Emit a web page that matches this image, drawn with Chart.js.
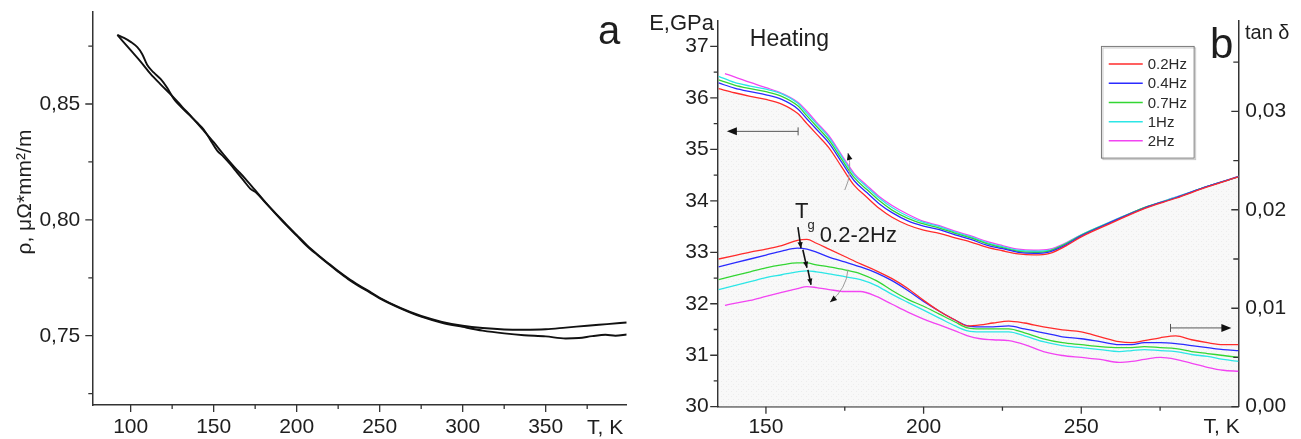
<!DOCTYPE html>
<html><head><meta charset="utf-8">
<script src="https://cdn.jsdelivr.net/npm/chart.js@4.4.0/dist/chart.umd.min.js"></script>
<style>
html,body{margin:0;padding:0;background:#fff;width:1301px;height:439px;overflow:hidden}
#ca{position:absolute;left:0;top:0}
#cb{position:absolute;left:630px;top:0}
</style></head><body>
<canvas id="ca" width="630" height="439"></canvas>
<canvas id="cb" width="671" height="439"></canvas>
<script>
// ---------- Panel a data ----------
const aTemps1 = [92,100,106,112,118,125,131,137.5,144,150,156,162.5,169,175,181,187.5,194,200,206,212.5,219,225,231,237.5,244,250,262.5,275,287.5,300,312,325,337,350,362,370,378,386,392,398.8];
const aRho1   = [0.8798,0.8732,0.8683,0.8630,0.8585,0.8535,0.8488,0.8438,0.8385,0.8335,0.8282,0.8228,0.8178,0.8128,0.8078,0.8025,0.7975,0.7932,0.7888,0.7848,0.7810,0.7776,0.7744,0.7714,0.7687,0.7661,0.7618,0.7582,0.7556,0.7538,0.7522,0.7510,0.7502,0.7497,0.7488,0.7490,0.7498,0.7504,0.7500,0.7505];
const aTemps2 = [92,96,100,104,107,110,114,118,122,126,130,135,140,144,148,152,156,160,164,168,172,176,181,187.5,194,200,206,212.5,219,225,231,237.5,244,250,262.5,275,287.5,300,312,325,337,350,362,375,387,398.8];
const aRho2   = [0.8798,0.8785,0.8768,0.8745,0.8715,0.8668,0.8635,0.8608,0.8570,0.8522,0.8490,0.8455,0.8420,0.8390,0.8345,0.8300,0.8272,0.8240,0.8205,0.8170,0.8135,0.8115,0.8075,0.8027,0.7978,0.7935,0.7892,0.7851,0.7813,0.7779,0.7748,0.7718,0.7690,0.7664,0.7620,0.7585,0.7560,0.7543,0.7533,0.7527,0.7526,0.7528,0.7535,0.7543,0.7550,0.7557];
const aXTickMajor = [100,150,200,250,300,350];
const aXTickMinor = [125,175,225,275,325,375];
const aYTickMajor = [0.75,0.80,0.85];
const aYTickMinor = [0.725,0.775,0.825,0.875];

// ---------- Panel b data ----------
const bLabels = ['0.2Hz','0.4Hz','0.7Hz','1Hz','2Hz'];
const bColors = ['#ff2b2b','#2b2bff','#33d633','#2ce6e6','#f244f2'];
const bETemps  = [135,140,145,150,155,160,163,166,170,174,178,182,186,190,195,200,205,210,215,220,225,230,235,240,245,250,260,270,280,290,300];
const bETempsM = [137,140,145,150,155,160,163,166,170,174,178,182,186,190,195,200,205,210,215,220,225,230,235,240,245,250,260,270,280,290,300];
const bE02 = [36.18,36.10,36.03,35.97,35.88,35.70,35.50,35.30,35.03,34.66,34.30,34.07,33.85,33.68,33.53,33.43,33.37,33.28,33.20,33.10,33.03,32.97,32.95,32.98,33.12,33.30,33.58,33.85,34.05,34.27,34.47];
const bE04 = [36.29,36.19,36.12,36.06,35.97,35.79,35.59,35.39,35.12,34.75,34.39,34.16,33.94,33.77,33.61,33.51,33.44,33.34,33.25,33.14,33.07,33.00,32.98,33.01,33.14,33.32,33.60,33.86,34.06,34.28,34.47];
const bE07 = [36.35,36.25,36.18,36.12,36.03,35.85,35.65,35.45,35.18,34.81,34.45,34.22,34.00,33.82,33.66,33.55,33.47,33.37,33.28,33.17,33.09,33.02,33.00,33.03,33.16,33.33,33.60,33.87,34.06,34.28,34.47];
const bE1  = [36.42,36.30,36.23,36.17,36.08,35.90,35.70,35.50,35.23,34.86,34.50,34.27,34.05,33.87,33.70,33.58,33.50,33.39,33.30,33.19,33.11,33.04,33.02,33.04,33.17,33.34,33.61,33.87,34.07,34.28,34.47];
const bE2  = [36.47,36.41,36.30,36.20,36.09,35.92,35.74,35.53,35.26,34.89,34.53,34.30,34.08,33.91,33.74,33.60,33.52,33.41,33.32,33.21,33.13,33.06,33.04,33.06,33.18,33.34,33.61,33.87,34.07,34.28,34.48];

const bTanTemps  = [135,140,145,150,155,160,163,166,170,175,180,185,190,195,200,205,210,214,218,222,227,232,238,244,250,256,262,266,270,275,280,285,290,295,300];
const bTanTempsM = [137,140,145,150,155,160,163,166,170,175,180,185,190,195,200,205,210,214,218,222,227,232,238,244,250,256,262,266,270,275,280,285,290,295,300];
const bTan02 = [0.0150,0.01535,0.0157,0.0160,0.01635,0.0169,0.0170,0.0166,0.0160,0.01525,0.0145,0.0138,0.0130,0.0120,0.0108,0.0097,0.0088,0.0082,0.0083,0.0085,0.0087,0.0085,0.0081,0.0078,0.0076,0.0071,0.0066,0.0065,0.0067,0.0070,0.0072,0.0068,0.0065,0.0063,0.0063];
const bTan04 = [0.0142,0.0146,0.0150,0.0154,0.0158,0.0161,0.0160,0.0157,0.0152,0.0147,0.0142,0.0136,0.0128,0.0118,0.0107,0.0097,0.0088,0.0082,0.0081,0.0081,0.0082,0.0079,0.0075,0.0071,0.0069,0.0066,0.0063,0.0063,0.0065,0.0065,0.0064,0.0062,0.0060,0.0058,0.0057];
const bTan07 = [0.0129,0.0133,0.0137,0.0141,0.0144,0.0146,0.0146,0.0144,0.0142,0.0139,0.0135,0.0128,0.0118,0.0109,0.0102,0.0094,0.0086,0.0080,0.0079,0.0079,0.0079,0.0075,0.0069,0.0065,0.0063,0.0061,0.0060,0.0060,0.0061,0.0060,0.0059,0.0056,0.0054,0.0052,0.0050];
const bTan1  = [0.0119,0.0123,0.0127,0.0131,0.0134,0.0137,0.0138,0.0137,0.0135,0.0132,0.0129,0.0123,0.0114,0.0106,0.0098,0.0090,0.0082,0.0077,0.0076,0.0076,0.0076,0.0072,0.0066,0.0062,0.0060,0.0058,0.0056,0.0057,0.0058,0.0057,0.0056,0.0053,0.0051,0.0048,0.0046];
const bTan2  = [0.0103,0.0105,0.0108,0.0112,0.0116,0.0120,0.0122,0.0121,0.0119,0.0117,0.0117,0.0112,0.0104,0.0096,0.0089,0.0083,0.0077,0.0072,0.0069,0.0068,0.0067,0.0063,0.0056,0.0052,0.0050,0.0048,0.0045,0.0046,0.0048,0.0050,0.0048,0.0044,0.0040,0.0037,0.0036];

const bXTickMajor = [150,200,250];
const bXTickMinor = [175,225,275];
const bETickMajor = [30,31,32,33,34,35,36,37];
const bETickMinor = [30.5,31.5,32.5,33.5,34.5,35.5,36.5];
const bTanTickMajor = [0,0.01,0.02,0.03];
const bTanTickMinor = [0.005,0.015,0.025,0.035];

// ---------- helpers ----------
const FONT = "'Liberation Sans', Arial, Helvetica, sans-serif";
Chart.defaults.font.family = FONT;
Chart.defaults.color = '#1e1e1e';
const pts = (xs, ys) => xs.map((v, i) => ({x: v, y: ys[i]}));
const comma = v => v.toFixed(2).replace('.', ',');
function fit(size, horiz) {
  return s => { if (horiz) s.height = size; else s.width = size; s.paddingTop = s.paddingBottom = s.paddingLeft = s.paddingRight = 0; };
}
const setTicks = arr => s => { s.ticks = arr.map(v => ({value: v})); };
function tickLines(ctx, scale, ca, values, len, side) {
  ctx.beginPath();
  values.forEach(v => {
    const p = scale.getPixelForValue(v);
    if (side === 'bottom') { ctx.moveTo(p, ca.bottom); ctx.lineTo(p, ca.bottom + len); }
    else if (side === 'left') { ctx.moveTo(ca.left, p); ctx.lineTo(ca.left - len, p); }
    else if (side === 'rightIn') { ctx.moveTo(ca.right, p); ctx.lineTo(ca.right - len, p); }
  });
  ctx.stroke();
}
function head(ctx, x1, y1, x2, y2, L, W) {
  const a = Math.atan2(y2 - y1, x2 - x1);
  ctx.beginPath();
  ctx.moveTo(x2, y2);
  ctx.lineTo(x2 - L * Math.cos(a) + W * Math.sin(a), y2 - L * Math.sin(a) - W * Math.cos(a));
  ctx.lineTo(x2 - L * Math.cos(a) - W * Math.sin(a), y2 - L * Math.sin(a) + W * Math.cos(a));
  ctx.closePath(); ctx.fill();
}
const axisBorder = {display: true, color: '#333', width: 1.5};
const noGrid = {display: false, drawTicks: false};
const tickFont = {size: 21, family: FONT};

// ---------- Panel a ----------
const decorA = {
  id: 'decorA',
  afterDraw(chart) {
    const {ctx, chartArea: ca, scales: {x, y}} = chart;
    ctx.save();
    ctx.strokeStyle = '#333'; ctx.lineWidth = 1.3;
    tickLines(ctx, x, ca, aXTickMajor, 7, 'bottom');
    tickLines(ctx, x, ca, aXTickMinor, 4, 'bottom');
    tickLines(ctx, y, ca, aYTickMajor, 7, 'left');
    tickLines(ctx, y, ca, aYTickMinor, 4, 'left');
    ctx.fillStyle = '#1e1e1e';
    ctx.textAlign = 'left'; ctx.textBaseline = 'alphabetic';
    ctx.font = '40px ' + FONT;
    ctx.fillText('a', x.getPixelForValue(381.5), y.getPixelForValue(0.8759));
    ctx.font = '21px ' + FONT; ctx.textAlign = 'center'; ctx.textBaseline = 'middle';
    ctx.fillText('T, K', x.getPixelForValue(385.8), ca.bottom + 23);
    ctx.save();
    ctx.translate(ca.left - 67, y.getPixelForValue(0.812));
    ctx.rotate(-Math.PI / 2);
    ctx.font = '21px ' + FONT;
    ctx.fillText('ρ, μΩ*mm²/m', 0, 0);
    ctx.restore();
    ctx.restore();
  }
};

new Chart(document.getElementById('ca'), {
  type: 'line',
  data: {datasets: [
    {data: pts(aTemps1, aRho1), borderColor: '#111', borderWidth: 1.9, pointRadius: 0, cubicInterpolationMode: 'monotone', fill: false},
    {data: pts(aTemps2, aRho2), borderColor: '#111', borderWidth: 1.9, pointRadius: 0, cubicInterpolationMode: 'monotone', fill: false}
  ]},
  options: {
    responsive: false, animation: false, devicePixelRatio: 1, events: [],
    layout: {padding: {left: 0, top: 12, right: 3.3, bottom: 0}, autoPadding: false},
    plugins: {legend: {display: false}, tooltip: {enabled: false}},
    scales: {
      x: {type: 'linear', min: 76.9, max: 398.8, grid: noGrid, border: axisBorder,
          afterBuildTicks: setTicks(aXTickMajor), afterFit: fit(34, true),
          ticks: {font: tickFont, padding: 10, maxRotation: 0, autoSkip: false, callback: v => String(v)}},
      y: {type: 'linear', min: 0.7201, max: 0.8897, grid: noGrid, border: axisBorder,
          afterBuildTicks: setTicks(aYTickMajor), afterFit: fit(92.3, false),
          ticks: {font: tickFont, padding: 12, autoSkip: false, callback: v => comma(v)}}
    }
  },
  plugins: [decorA]
});

// ---------- Panel b ----------
const cbCtx = document.getElementById('cb').getContext('2d');
function dotPattern() {
  const c = document.createElement('canvas'); c.width = 5; c.height = 5;
  const g = c.getContext('2d');
  g.fillStyle = '#f8f8f8'; g.fillRect(0, 0, 5, 5);
  g.fillStyle = '#ececec'; g.fillRect(1, 1, 1, 1); g.fillRect(3, 4, 1, 1);
  return cbCtx.createPattern(c, 'repeat');
}

const decorB = {
  id: 'decorB',
  afterDraw(chart) {
    const {ctx, chartArea: ca, scales: {x, yE, yT}} = chart;
    const P = (t, e) => [x.getPixelForValue(t), yE.getPixelForValue(e)];
    ctx.save();
    ctx.strokeStyle = '#333'; ctx.lineWidth = 1.3;
    tickLines(ctx, x, ca, bXTickMajor, 7, 'bottom');
    tickLines(ctx, x, ca, bXTickMinor, 4, 'bottom');
    tickLines(ctx, yE, ca, bETickMajor, 7.5, 'left');
    tickLines(ctx, yE, ca, bETickMinor, 4, 'left');
    tickLines(ctx, yT, ca, bTanTickMajor, 7, 'rightIn');
    tickLines(ctx, yT, ca, bTanTickMinor, 5, 'rightIn');

    ctx.fillStyle = '#1e1e1e';
    ctx.font = '22px ' + FONT; ctx.textAlign = 'right'; ctx.textBaseline = 'alphabetic';
    ctx.fillText('E,GPa', ca.left - 3.7, ca.top + 9);
    ctx.font = '20px ' + FONT; ctx.textAlign = 'left';
    ctx.fillText('tan δ', ca.right + 6.7, ca.top + 18);
    ctx.font = '21px ' + FONT; ctx.textAlign = 'center'; ctx.textBaseline = 'middle';
    ctx.fillText('T, K', ca.right - 16.6, ca.bottom + 20.5);
    ctx.textAlign = 'left'; ctx.textBaseline = 'alphabetic';
    ctx.font = '42px ' + FONT;
    let p = P(290.8, 36.78); ctx.fillText('b', p[0], p[1]);
    ctx.font = '23px ' + FONT;
    p = P(144.9, 37.0); ctx.fillText('Heating', p[0], p[1]);
    ctx.font = '22px ' + FONT;
    p = P(159.2, 33.67); ctx.fillText('T', p[0], p[1]);
    ctx.font = '13px ' + FONT;
    p = P(163.2, 33.46); ctx.fillText('g', p[0], p[1]);
    ctx.font = '22px ' + FONT;
    p = P(167.1, 33.2); ctx.fillText('0.2-2Hz', p[0], p[1]);

    ctx.strokeStyle = '#555'; ctx.lineWidth = 1;
    let a0 = P(137.6, 35.35), a1 = P(160.2, 35.35);
    ctx.beginPath(); ctx.moveTo(a0[0] + 6, a0[1]); ctx.lineTo(a1[0], a1[1]);
    ctx.moveTo(a1[0], a1[1] - 4); ctx.lineTo(a1[0], a1[1] + 4); ctx.stroke();
    ctx.fillStyle = '#111'; head(ctx, a1[0], a1[1], a0[0], a0[1], 10, 4);
    const yt = yT.getPixelForValue(0.008);
    const r0 = x.getPixelForValue(278.3), r1 = x.getPixelForValue(297.6);
    ctx.beginPath(); ctx.moveTo(r0, yt); ctx.lineTo(r1 - 6, yt);
    ctx.moveTo(r0, yt - 4); ctx.lineTo(r0, yt + 4); ctx.stroke();
    head(ctx, r0, yt, r1, yt, 10, 4);
    ctx.strokeStyle = '#111'; ctx.lineWidth = 1.6;
    [[160.15, 33.49, 161.1, 33.08], [161.7, 33.05, 163.0, 32.70], [163.3, 32.66, 164.3, 32.37]].forEach(s => {
      const b0 = P(s[0], s[1]), b1 = P(s[2], s[3]);
      ctx.beginPath(); ctx.moveTo(b0[0], b0[1]); ctx.lineTo(b1[0], b1[1]); ctx.stroke();
      head(ctx, b0[0], b0[1], b1[0], b1[1], 6, 2.6);
    });
    ctx.strokeStyle = '#9a9a9a'; ctx.lineWidth = 1;
    [[[175.0, 34.21], [177.6, 34.55], [176.0, 34.93]], [[176.0, 32.66], [175.6, 32.30], [170.3, 32.03]]].forEach(c => {
      const q0 = P(c[0][0], c[0][1]), q1 = P(c[1][0], c[1][1]), q2 = P(c[2][0], c[2][1]);
      ctx.beginPath(); ctx.moveTo(q0[0], q0[1]); ctx.quadraticCurveTo(q1[0], q1[1], q2[0], q2[1]); ctx.stroke();
      head(ctx, q1[0], q1[1], q2[0], q2[1], 7, 2.8);
    });

    const l0 = P(256.4, 37.0), l1 = P(285.8, 34.83);
    ctx.fillStyle = '#fff'; ctx.fillRect(l0[0], l0[1], l1[0] - l0[0], l1[1] - l0[1]);
    ctx.strokeStyle = '#c8c8c8'; ctx.lineWidth = 1;
    ctx.strokeRect(l0[0] + 1.5, l0[1] + 1.5, l1[0] - l0[0], l1[1] - l0[1]);
    ctx.strokeStyle = '#7a7a7a';
    ctx.strokeRect(l0[0], l0[1], l1[0] - l0[0], l1[1] - l0[1]);
    ctx.font = '15px ' + FONT; ctx.textBaseline = 'middle'; ctx.textAlign = 'left';
    bLabels.forEach((lab, i) => {
      const yy = l0[1] + 17.6 + i * 19.2;
      ctx.strokeStyle = bColors[i]; ctx.lineWidth = 1.5;
      ctx.beginPath(); ctx.moveTo(l0[0] + 7.3, yy); ctx.lineTo(l0[0] + 41.3, yy); ctx.stroke();
      ctx.fillStyle = '#2a2a2a'; ctx.fillText(lab, l0[0] + 46.3, yy + 1);
    });
    ctx.restore();
  }
};

const bE = [bE02, bE04, bE07, bE1, bE2];
const bT = [bTan02, bTan04, bTan07, bTan1, bTan2];
const dsB = [];
bE.forEach((arr, i) => dsB.push({
  label: bLabels[i], data: pts(i === 4 ? bETempsM : bETemps, arr), yAxisID: 'yE',
  borderColor: bColors[i], borderWidth: 1.3, pointRadius: 0, cubicInterpolationMode: 'monotone',
  fill: i === 0 ? 'start' : false, backgroundColor: i === 0 ? dotPattern() : 'transparent'
}));
bT.forEach((arr, i) => dsB.push({
  label: bLabels[i], data: pts(i === 4 ? bTanTempsM : bTanTemps, arr), yAxisID: 'yT',
  borderColor: bColors[i], borderWidth: 1.3, pointRadius: 0, cubicInterpolationMode: 'monotone', fill: false
}));

new Chart(document.getElementById('cb'), {
  type: 'line',
  data: {datasets: dsB},
  options: {
    responsive: false, animation: false, devicePixelRatio: 1, events: [],
    layout: {padding: {left: 0, top: 20.7, right: 0, bottom: 0}, autoPadding: false},
    plugins: {legend: {display: false}, tooltip: {enabled: false}, filler: {drawTime: 'beforeDatasetsDraw'}},
    scales: {
      x: {type: 'linear', min: 134.7, max: 299.8, grid: noGrid, border: axisBorder,
          afterBuildTicks: setTicks(bXTickMajor), afterFit: fit(32.3, true),
          ticks: {font: tickFont, padding: 8, maxRotation: 0, autoSkip: false, callback: v => String(v)}},
      yE: {type: 'linear', position: 'left', min: 30, max: 37.5, grid: noGrid, border: axisBorder,
          afterBuildTicks: setTicks(bETickMajor), afterFit: fit(87.7, false),
          ticks: {font: tickFont, padding: 9, autoSkip: false, callback: v => String(v)}},
      yT: {type: 'linear', position: 'right', min: 0, max: 0.0392, grid: noGrid, border: axisBorder,
          afterBuildTicks: setTicks(bTanTickMajor), afterFit: fit(62.7, false),
          ticks: {font: tickFont, padding: 7, autoSkip: false, callback: v => comma(v)}}
    }
  },
  plugins: [decorB]
});
</script>
</body></html>
